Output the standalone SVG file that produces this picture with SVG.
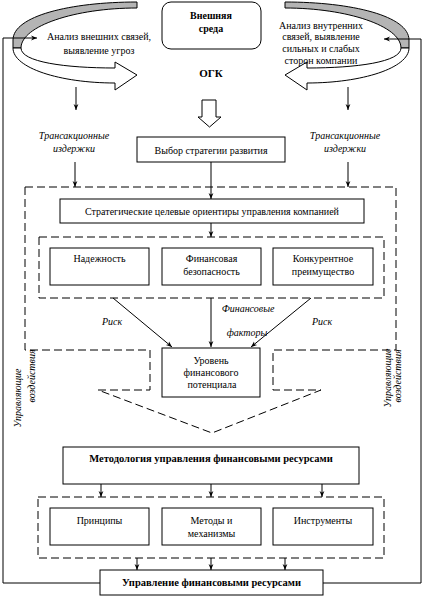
<svg xmlns="http://www.w3.org/2000/svg" width="423" height="597" viewBox="0 0 423 597">
<style>
text{font-family:"Liberation Serif","DejaVu Serif",serif;font-size:10px;fill:#000;text-anchor:middle}
.b{font-weight:bold}
.i{font-style:italic}
.box{fill:#fff;stroke:#000;stroke-width:1}
.dash{fill:none;stroke:#000;stroke-width:1;stroke-dasharray:8 4}
.ar{fill:none;stroke:#000;stroke-width:1;marker-end:url(#ah)}
</style>
<defs>
<marker id="ah" viewBox="0 0 10 10" refX="10" refY="5" markerWidth="6" markerHeight="6" orient="auto" markerUnits="userSpaceOnUse">
<path d="M0,1 L10,5 L0,9 L3,5 Z" fill="#000"/>
</marker>
<g id="curve">
<path d="M137,2 C70,2 13,16 13,40 L13,48 L21,48 C21,26 75,8 137,8 Z" fill="#b4b4b4" stroke="#000" stroke-width="1"/>
<path d="M13,48 C13,68 60,83 115,83 L115,90 L137,75 L115,62 L115,68 C65,68 21,62 21,48 Z" fill="#fff" stroke="#000" stroke-width="1"/>
</g>
</defs>
<rect width="423" height="597" fill="#fff"/>

<g id="curve-left"><use href="#curve"/></g>
<g id="curve-right"><use href="#curve" transform="translate(422,0) scale(-1,1)"/></g>

<g id="env">
<rect class="box" x="162" y="2" width="99" height="47" rx="9"/>
<text class="b" x="211" y="18.5">Внешняя</text>
<text class="b" x="211" y="31.5">среда</text>
</g>
<g id="ogk"><text class="b" x="211" y="77" style="font-size:11px">ОГК</text></g>
<g id="block-arrow">
<path d="M202,100 H216 V117 H221 L209.5,127 L198,117 H202 Z" fill="#fff" stroke="#000" stroke-width="1"/>
</g>
<g id="ext-analysis">
<text x="99" y="40">Анализ внешних связей,</text>
<text x="99" y="53.5">выявление угроз</text>
</g>
<g id="int-analysis">
<text x="321" y="28.5">Анализ внутренних</text>
<text x="321" y="40">связей, выявление</text>
<text x="321" y="52">сильных и слабых</text>
<text x="321" y="63.5">сторон компании</text>
</g>
<g id="trans-left">
<text class="i" x="74" y="138.5">Трансакционные</text>
<text class="i" x="74" y="151.5">издержки</text>
</g>
<g id="trans-right">
<text class="i" x="345" y="138.5">Трансакционные</text>
<text class="i" x="345" y="151.5">издержки</text>
</g>
<g id="strategy">
<rect class="box" x="137" y="137" width="148" height="25"/>
<text x="211" y="153.5">Выбор стратегии развития</text>
</g>
<g id="outer-frame">
<path class="dash" d="M25,187 H396 V350 H273 V390 H321 L212,433 L98,390 H150 V350 H25 Z"/>
</g>
<g id="targets">
<rect class="box" x="60" y="199" width="304" height="24"/>
<text x="212" y="214.5">Стратегические целевые ориентиры управления компанией</text>
</g>
<g id="inner-frame"><rect class="dash" x="39" y="237" width="345" height="61"/></g>
<g id="reliability">
<rect class="box" x="50" y="248" width="99" height="37"/>
<text x="99.5" y="261.5">Надежность</text>
</g>
<g id="security">
<rect class="box" x="162" y="248" width="99" height="37"/>
<text x="211.5" y="261.5">Финансовая</text>
<text x="211.5" y="274.5">безопасность</text>
</g>
<g id="advantage">
<rect class="box" x="273" y="248" width="100" height="37"/>
<text x="323" y="261.5">Конкурентное</text>
<text x="323" y="274.5">преимущество</text>
</g>
<g id="risk-left"><text class="i" x="112" y="324.5">Риск</text></g>
<g id="risk-right"><text class="i" x="322" y="324.5">Риск</text></g>
<g id="factors">
<text class="i" x="248" y="311.5">Финансовые</text>
<text class="i" x="247" y="335.5">факторы</text>
</g>
<g id="potential">
<rect class="box" x="162" y="348" width="98" height="49"/>
<text x="211" y="363.5">Уровень</text>
<text x="211" y="375.5">финансового</text>
<text x="212" y="387.5">потенциала</text>
</g>
<g id="control-left">
<text class="i" transform="translate(20.5,398) rotate(-90)" x="0" y="0">Управляющие</text>
<text class="i" transform="translate(34.5,376) rotate(-90)" x="0" y="0">воздействия</text>
</g>
<g id="control-right">
<text class="i" transform="translate(391,378) rotate(-90)" x="0" y="0">Управляющие</text>
<text class="i" transform="translate(400.5,376) rotate(-90)" x="0" y="0">воздействия</text>
</g>
<g id="methodology">
<rect class="box" x="63" y="447" width="296" height="37"/>
<text class="b" x="211" y="461.5" style="font-size:10.5px">Методология управления финансовыми ресурсами</text>
</g>
<g id="tools-frame"><rect class="dash" x="38" y="497" width="346" height="61"/></g>
<g id="principles">
<rect class="box" x="50" y="508" width="99" height="37"/>
<text x="99.5" y="523.5">Принципы</text>
</g>
<g id="methods">
<rect class="box" x="162" y="508" width="99" height="37"/>
<text x="211.5" y="523.5">Методы и</text>
<text x="211.5" y="536.5">механизмы</text>
</g>
<g id="instruments">
<rect class="box" x="273" y="508" width="100" height="37"/>
<text x="323" y="523.5">Инструменты</text>
</g>
<g id="management">
<rect class="box" x="100" y="570" width="223" height="25"/>
<text class="b" x="211.5" y="585.5" style="font-size:10.5px">Управление финансовыми ресурсами</text>
</g>

<g id="connectors">
<path class="ar" d="M76,87 V110"/>
<path class="ar" d="M348,87 V110"/>
<path class="ar" d="M75,162 V187"/>
<path class="ar" d="M348,162 V187"/>
<path class="ar" d="M211,162 V199"/>
<path class="ar" d="M211,223 V237"/>
<path class="ar" d="M113,298 L172,347"/>
<path class="ar" d="M211,298 V347"/>
<path class="ar" d="M311,298 L251,347"/>
<path class="ar" d="M101,484 V497"/>
<path class="ar" d="M211,484 V497"/>
<path class="ar" d="M322,484 V497"/>
<path class="ar" d="M137,558 V570"/>
<path class="ar" d="M211,558 V570"/>
<path class="ar" d="M285,558 V570"/>
<path class="ar" d="M100,583 H3 V38 H37"/>
<path class="ar" d="M323,583 H421 V39 H384"/>
</g>
</svg>
